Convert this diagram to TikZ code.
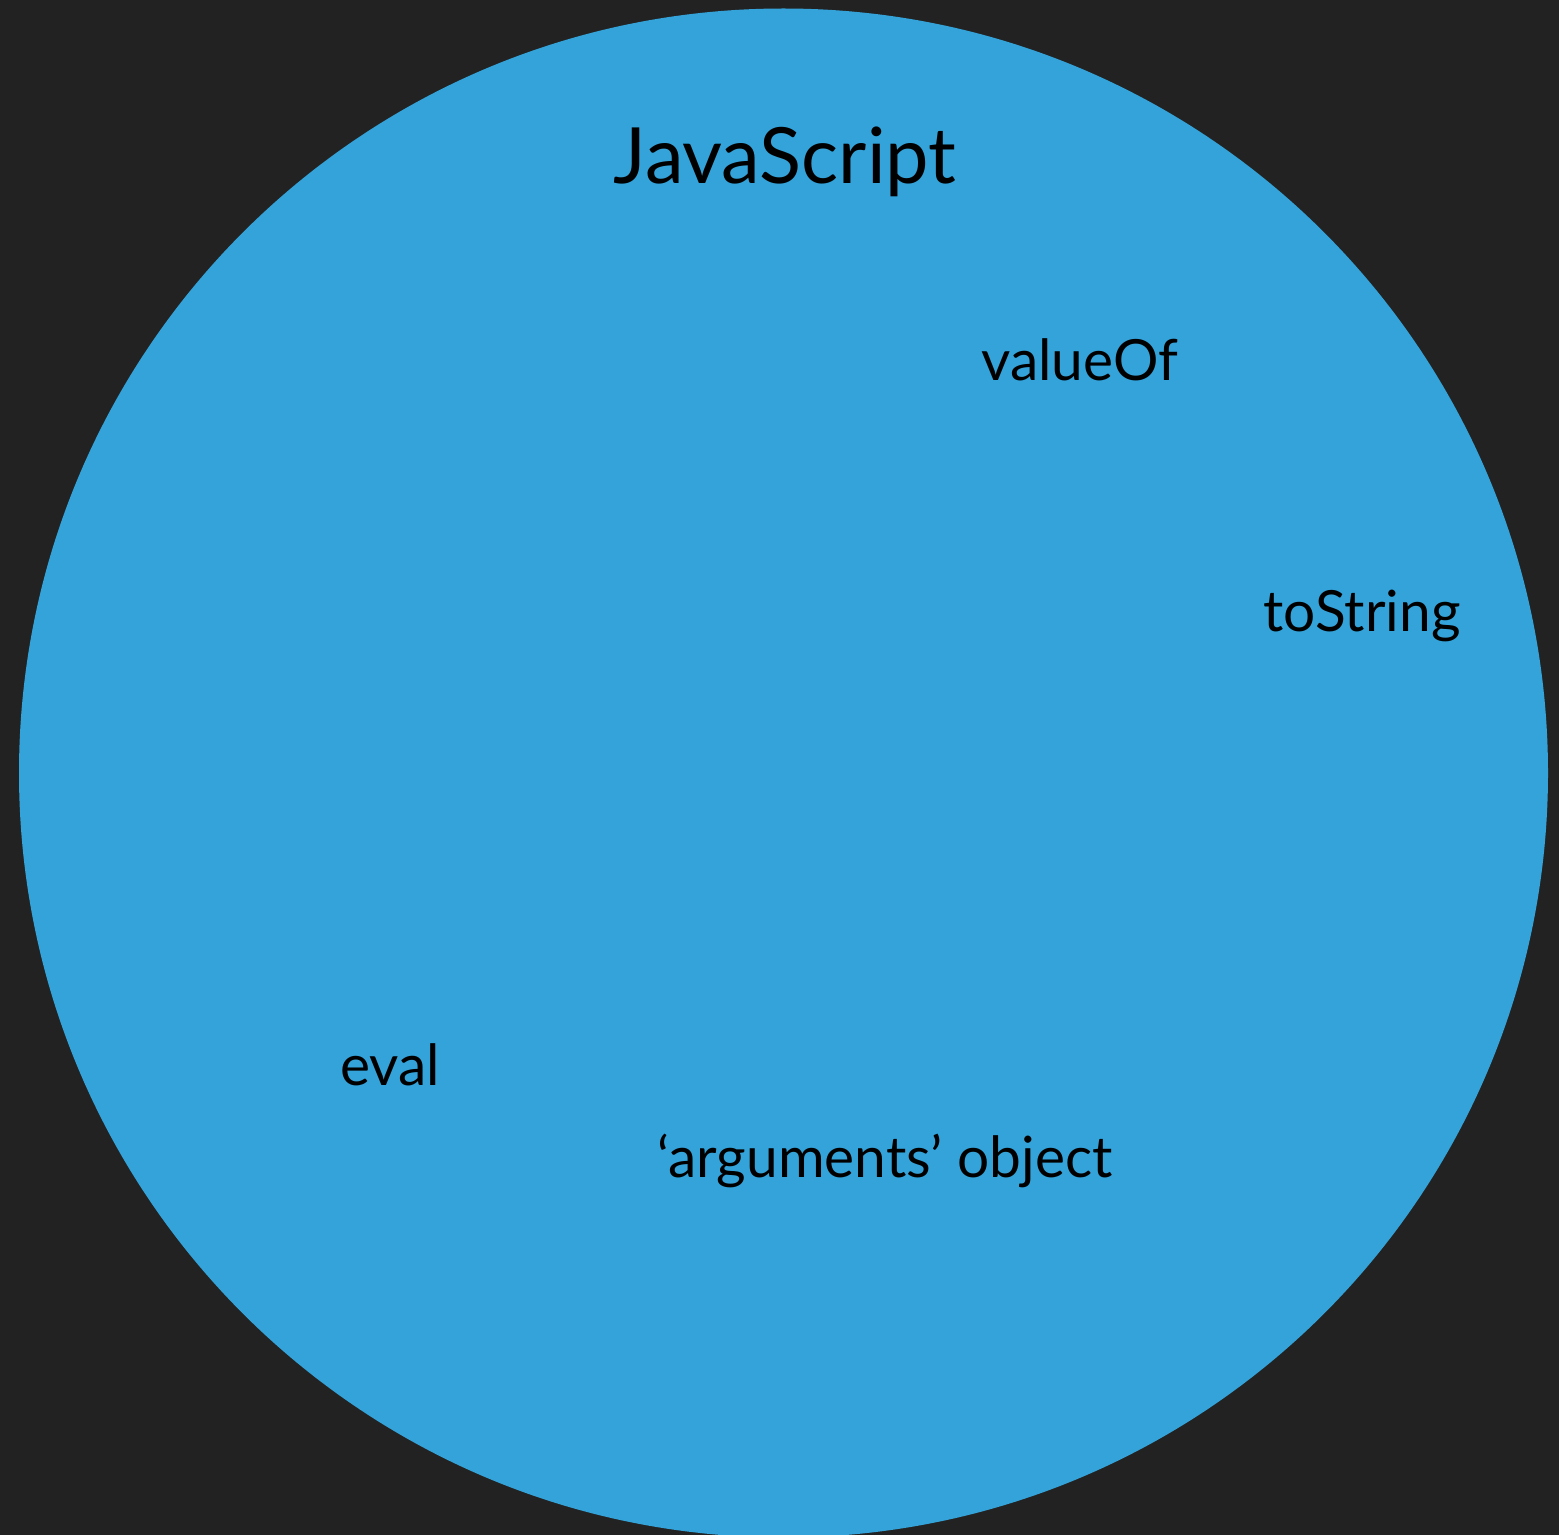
\documentclass[tikz,border=0pt]{standalone}
\usepackage{fontspec}
\setmainfont{Lato}
\definecolor{bgdark}{HTML}{222222}
\definecolor{jsblue}{HTML}{33A3DA}
\begin{document}
\begin{tikzpicture}[x=0.5pt,y=-0.5pt,
  label/.style={anchor=base,inner sep=0pt,text=black,font=\fontsize{28.4}{31}\selectfont},
  title/.style={anchor=base,inner sep=0pt,text=black,font=\fontsize{38.8}{42}\selectfont}]
  % canvas
  \fill[bgdark] (0,0) rectangle (1559,1535);
  \useasboundingbox (0,0) rectangle (1559,1535);
  % the language circle
  \begin{scope}
    \clip (0,0) rectangle (1559,1535);
    \fill[jsblue] (783.5,773) circle[radius=764.5];
  \end{scope}
  % labels
  \node[title] (js) at (785,184) {JavaScript};
  \node[label] (valueof) at (1080,381) {valueOf};
  \node[label] (tostring) at (1362,632) {toString};
  \node[label] (eval) at (390,1085) {eval};
  \node[label] (args) at (885,1177) {‘arguments’ object};
\end{tikzpicture}
\end{document}
